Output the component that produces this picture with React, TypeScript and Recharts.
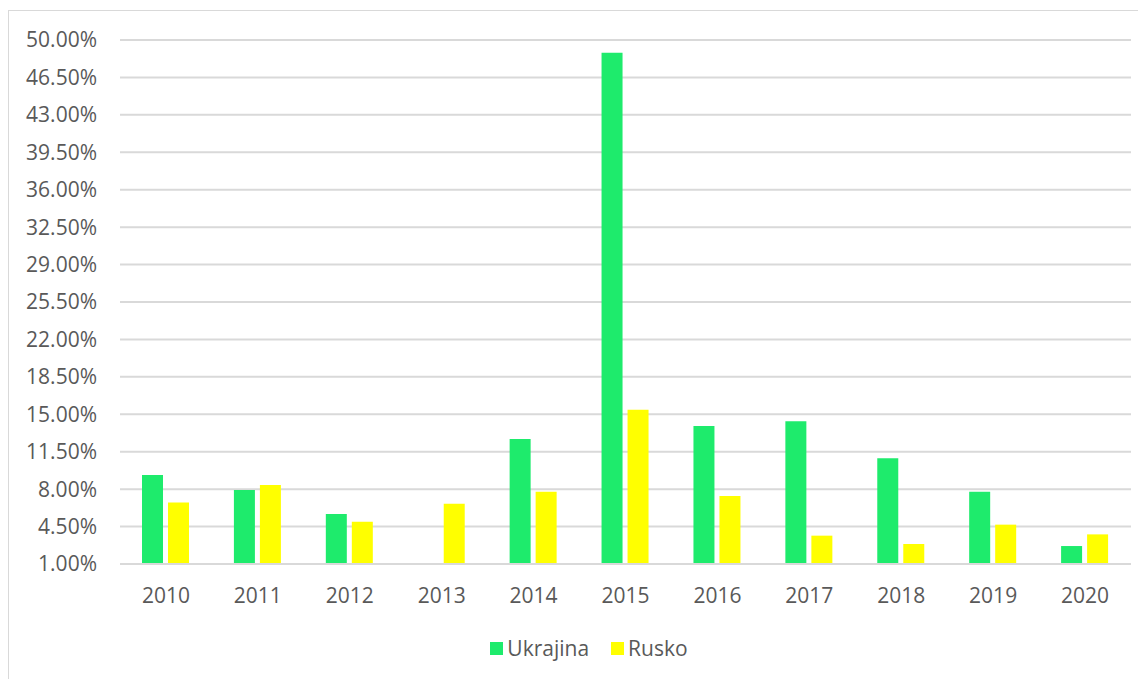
import { BarChart, Bar, XAxis, YAxis, CartesianGrid, Legend } from "recharts";

const years = ["2010", "2011", "2012", "2013", "2014", "2015", "2016", "2017", "2018", "2019", "2020"];
const ukrajina = [9.33, 7.92, 5.68, 0.9, 12.69, 48.8, 13.91, 14.34, 10.88, 7.76, 2.68];
const rusko = [6.76, 8.39, 4.96, 6.64, 7.76, 15.43, 7.36, 3.65, 2.87, 4.68, 3.77];
const yTicks = [1, 4.5, 8, 11.5, 15, 18.5, 22, 25.5, 29, 32.5, 36, 39.5, 43, 46.5, 50];
const seriesNames = ["Ukrajina", "Rusko"];

const GREEN = "#1EEB6C";
const YELLOW = "#FFFF00";
const TEXT = "#595959";
const GRID = "#D9D9D9";
const FONT = "'Open Sans', sans-serif";
const FS = 21;

const chartData = years.map((y, i) => ({
  year: y,
  Ukrajina: ukrajina[i],
  Rusko: rusko[i],
}));

function LegendContent({ payload }: any) {
  const items = [...(payload || [])].sort(
    (a: any, b: any) => seriesNames.indexOf(a.value) - seriesNames.indexOf(b.value)
  );
  return (
    <div style={{ display: "flex", justifyContent: "center", fontFamily: FONT, fontSize: FS, color: TEXT }}>
      {items.map((p: any, i: number) => (
        <div key={p.value} style={{ display: "flex", alignItems: "center", marginLeft: i ? 22 : 0 }}>
          <span style={{ width: 13, height: 13, background: p.color, display: "inline-block", marginRight: 4 }} />
          <span>{p.value}</span>
        </div>
      ))}
    </div>
  );
}

const tickStyle = { fontSize: FS, fill: TEXT, fontFamily: FONT, style: { fontSize: FS, fontFamily: FONT } };

export default function App() {
  return (
    <div style={{ marginTop: 2, width: 1150, height: 680, border: `1px solid ${GRID}`, boxSizing: "border-box", background: "#fff" }}>
      <BarChart
        width={1136}
        height={668}
        data={chartData}
        margin={{ top: 29, right: 14, left: 0, bottom: 57 }}
        barSize={21}
        barGap={5}
      >
        <CartesianGrid vertical={false} stroke={GRID} strokeWidth={2} />
        <XAxis
          dataKey="year"
          fontSize={FS}
          axisLine={{ stroke: GRID, strokeWidth: 2 }}
          tickLine={false}
          tickSize={0}
          tickMargin={24}
          tick={tickStyle}
        />
        <YAxis
          width={111}
          fontSize={FS}
          domain={[1, 50]}
          ticks={yTicks}
          allowDataOverflow
          axisLine={false}
          tickLine={false}
          tickSize={0}
          tickMargin={23}
          interval={0}
          tick={tickStyle}
          tickFormatter={(v) => `${Number(v).toFixed(2)}%`}
        />
        <Legend
          content={<LegendContent />}
          wrapperStyle={{ top: 623, left: 12, width: 1136 }}
        />
        <Bar dataKey="Ukrajina" fill={GREEN} isAnimationActive={false} />
        <Bar dataKey="Rusko" fill={YELLOW} isAnimationActive={false} />
      </BarChart>
    </div>
  );
}
